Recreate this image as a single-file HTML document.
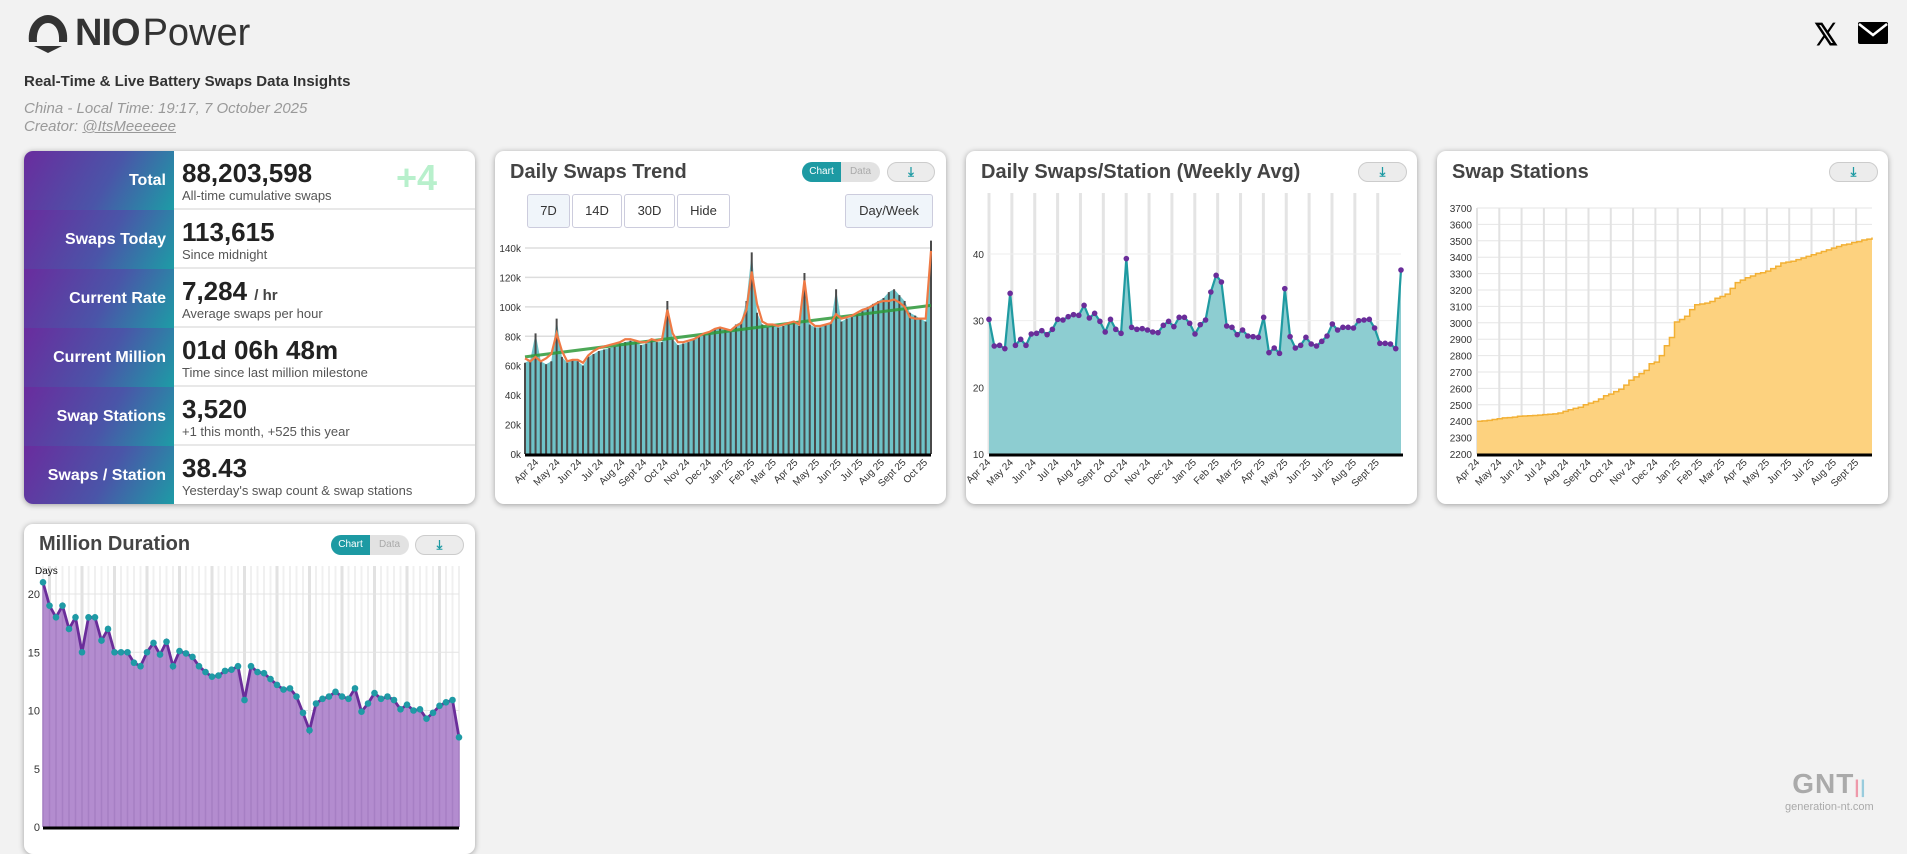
<!DOCTYPE html>
<html><head><meta charset="utf-8">
<style>
*{box-sizing:border-box;margin:0;padding:0}
body{width:1907px;height:832px;background:#f2f2f2;font-family:"Liberation Sans",sans-serif;position:relative;overflow:hidden;color:#333}
.abs{position:absolute}
.card{position:absolute;background:#fff;border-radius:9px;box-shadow:0 1px 6px rgba(0,0,0,.35);overflow:hidden}
.row{position:absolute;left:0;width:451px;height:59px;border-bottom:2px solid #e8e8e8}
.lab{position:absolute;left:0;top:0;width:150px;height:59px;background:linear-gradient(120deg,#6a2c9e 0%,#4a55a8 55%,#1d9ca6 100%);color:#fff;font-weight:bold;font-size:16px;text-align:right;padding-right:8px;line-height:59px}
.val{position:absolute;left:158px;top:7px;font-size:26px;font-weight:bold;color:#222}
.val small{font-size:15px;font-weight:bold;color:#444}
.sub{position:absolute;left:158px;top:37px;font-size:13px;color:#555}
.ctitle{position:absolute;font-size:20px;font-weight:bold;color:#444}
.tog{position:absolute;height:20px;border-radius:10px;background:#e2e2e2;font-size:10px;overflow:hidden;display:flex}
.tog span{flex:1;text-align:center;line-height:20px;color:#aaa}
.tog span.on{background:#1d9aa3;color:#fff}
.dl{position:absolute;height:20px;border-radius:10px;background:#ececec;border:1px solid #ccc;color:#1d9aa3;text-align:center;font-size:13px;line-height:17px;font-weight:bold}
.btn{position:absolute;top:194px;height:34px;border:1px solid #ccd;border-radius:3px;background:#fff;font-size:13px;text-align:center;line-height:32px;color:#333}
</style></head><body>
<div class="abs" style="left:25px;top:11px;height:44px;display:flex;align-items:center">
<svg width="46" height="42" viewBox="0 0 46 42"><path d="M4 30 C2 12 14 3 23 3 C32 3 44 12 42 30 L34 30 C35 17 29 11 23 11 C17 11 11 17 12 30 Z" fill="#333"/><path d="M9 34 L37 34 L23 41 Z" fill="#333"/></svg>
<span style="font-size:38px;font-weight:bold;color:#333;letter-spacing:-1px;margin-left:4px">NIO</span><span style="font-size:38px;color:#333;margin-left:3px">Power</span></div>
<div class="abs" style="left:24px;top:73px;font-size:15px;font-weight:bold;color:#333">Real-Time &amp; Live Battery Swaps Data Insights</div>
<div class="abs" style="left:24px;top:100px;font-size:15px;font-style:italic;color:#999">China - Local Time: 19:17, 7 October 2025</div>
<div class="abs" style="left:24px;top:118px;font-size:15px;font-style:italic;color:#999">Creator: <span style="text-decoration:underline">@ItsMeeeeee</span></div>
<div class="abs" style="left:1814px;top:18px;font-size:30px;font-weight:bold;color:#000">𝕏</div>
<svg class="abs" style="left:1858px;top:22px" width="30" height="22"><rect x="0" y="0" width="30" height="22" rx="2" fill="#000"/><path d="M1 2 L15 13 L29 2" stroke="#fff" stroke-width="2.5" fill="none"/></svg>

<div class="card" style="left:24px;top:151px;width:451px;height:353px">
<div class="row" style="top:0"><div class="lab">Total</div><div class="val">88,203,598</div><div class="sub">All-time cumulative swaps</div><div class="abs" style="left:372px;top:6px;font-size:36px;font-weight:bold;color:#b8f0cc">+4</div></div>
<div class="row" style="top:59px"><div class="lab">Swaps Today</div><div class="val">113,615</div><div class="sub">Since midnight</div></div>
<div class="row" style="top:118px"><div class="lab">Current Rate</div><div class="val">7,284 <small>/ hr</small></div><div class="sub">Average swaps per hour</div></div>
<div class="row" style="top:177px"><div class="lab">Current Million</div><div class="val">01d 06h 48m</div><div class="sub">Time since last million milestone</div></div>
<div class="row" style="top:236px"><div class="lab">Swap Stations</div><div class="val">3,520</div><div class="sub">+1 this month, +525 this year</div></div>
<div class="row" style="top:295px;border:none"><div class="lab">Swaps / Station</div><div class="val">38.43</div><div class="sub">Yesterday's swap count &amp; swap stations</div></div>
</div>

<div class="card" style="left:495px;top:151px;width:451px;height:353px"></div>
<div class="ctitle" style="left:510px;top:161px">Daily Swaps Trend</div>
<div class="tog" style="left:802px;top:162px;width:78px"><span class="on">Chart</span><span>Data</span></div>
<div class="dl" style="left:887px;top:162px;width:48px">⤓</div>
<div class="btn" style="left:527px;width:43px;background:#f0f5fa">7D</div>
<div class="btn" style="left:572px;width:50px">14D</div>
<div class="btn" style="left:624px;width:51px">30D</div>
<div class="btn" style="left:677px;width:53px">Hide</div>
<div class="btn" style="left:845px;width:88px;background:#f0f5fa">Day/Week</div>

<div class="card" style="left:966px;top:151px;width:451px;height:353px"></div>
<div class="ctitle" style="left:981px;top:161px">Daily Swaps/Station (Weekly Avg)</div>
<div class="dl" style="left:1358px;top:162px;width:49px">⤓</div>

<div class="card" style="left:1437px;top:151px;width:451px;height:353px"></div>
<div class="ctitle" style="left:1452px;top:161px">Swap Stations</div>
<div class="dl" style="left:1829px;top:162px;width:49px">⤓</div>

<div class="card" style="left:24px;top:524px;width:451px;height:330px"></div>
<div class="ctitle" style="left:39px;top:533px">Million Duration</div>
<div class="tog" style="left:331px;top:535px;width:78px"><span class="on">Chart</span><span>Data</span></div>
<div class="dl" style="left:415px;top:535px;width:49px">⤓</div>

<div class="abs" style="left:1785px;top:770px;color:#aaa;text-align:center"><div style="font-size:28px;font-weight:bold;letter-spacing:1px;line-height:28px">GNT<span style="font-size:18px;color:#e9a">|</span><span style="font-size:18px;color:#9cd">|</span></div><div style="font-size:11px">generation-nt.com</div></div>

<svg id="charts" class="abs" style="left:0;top:0" width="1907" height="832"></svg>
<script>
// ---- Daily swaps trend (weekly samples, thousands) ----
const dailyMonths=["Apr 24","May 24","Jun 24","Jul 24","Aug 24","Sept 24","Oct 24","Nov 24","Dec 24","Jan 25","Feb 25","Mar 25","Apr 25","May 25","Jun 25","Jul 25","Aug 25","Sept 25","Oct 25"];
const dailyTicks=[0,20,40,60,80,100,120,140];
const dailyBars=[62,64,82,63,61,63,92,66,62,64,63,60,66,68,70,71,72,73,75,76,77,76,74,75,78,76,76,104,78,74,75,76,78,80,82,83,85,86,85,84,88,90,104,137,96,88,86,88,86,87,88,90,87,123,88,86,86,88,89,112,90,92,93,95,97,100,102,104,106,110,112,108,104,96,94,92,90,145];
const dailyAvg=[65,63,66,63,65,68,82,70,63,64,64,62,67,70,72,73,74,75,76,78,78,77,76,76,78,77,78,98,82,76,76,77,78,80,82,83,85,86,85,84,87,89,98,124,102,90,88,88,87,88,89,90,88,118,90,87,87,88,89,95,92,93,94,96,98,99,101,103,104,104,105,103,100,93,92,92,92,138];
const dailyTrend=[66,101];
// ---- Swaps per station weekly avg ----
const stMonths=["Apr 24","May 24","Jun 24","Jul 24","Aug 24","Sept 24","Oct 24","Nov 24","Dec 24","Jan 25","Feb 25","Mar 25","Apr 25","May 25","Jun 25","Jul 25","Aug 25","Sept 25"];
const stTicks=[10,20,30,40];
const stAvg=[30.2,26.2,26.3,25.8,34.1,26.3,27.2,26.3,28,28.1,28.5,27.9,28.7,30.2,30.1,30.6,30.9,30.8,32.3,30.4,31.1,29.9,28.3,30.2,28.7,28.1,39.3,29,28.7,28.8,28.6,28.3,28.2,29.3,29.9,29.1,30.5,30.5,29.6,28,29.4,30.1,34.3,36.8,35.8,29.2,29,27.9,28.6,27.7,27.6,27.5,30.5,25.2,25.9,25.1,34.8,27.6,25.9,26.3,27.5,26.5,26.2,26.9,27.7,29.5,28.6,29,29,28.9,30,30.1,30.2,28.9,26.6,26.6,26.5,25.8,37.6];
// ---- Swap stations ----
const ssTicks=[2200,2300,2400,2500,2600,2700,2800,2900,3000,3100,3200,3300,3400,3500,3600,3700];
const ssValues=[2400,2402,2405,2410,2415,2420,2422,2425,2430,2432,2433,2435,2437,2440,2442,2445,2450,2460,2470,2478,2485,2500,2510,2520,2535,2555,2565,2580,2595,2620,2650,2670,2690,2710,2750,2760,2800,2860,2910,3005,3020,3040,3080,3110,3115,3120,3130,3150,3160,3175,3210,3245,3260,3275,3285,3300,3305,3315,3330,3345,3365,3370,3375,3385,3395,3405,3415,3425,3435,3445,3455,3465,3475,3480,3490,3495,3505,3510,3520];
// ---- Million duration ----
const mdTicks=[0,5,10,15,20];
const mdDays=[21,19,18,19,17,18,15,18,18,16,17,15,15,15,14.1,13.8,15,15.8,14.8,15.9,13.8,15.1,14.9,14.6,13.8,13.3,12.9,13,13.4,13.5,13.8,10.9,13.8,13.3,13.2,12.7,12.2,11.8,11.9,11.2,9.8,8.3,10.6,11.0,11.2,11.6,11.2,11.0,11.9,9.9,10.6,11.5,11.0,11.2,10.9,10.1,10.5,10.0,10.1,9.3,9.8,10.4,10.7,10.9,7.7];

const svg=document.getElementById('charts');
const NS='http://www.w3.org/2000/svg';
function mk(tag,attrs){const e=document.createElementNS(NS,tag);for(const k in attrs)e.setAttribute(k,attrs[k]);svg.appendChild(e);return e;}
function txt(x,y,s,anchor,size,rot,col){const t=mk('text',{x:x,y:y,'text-anchor':anchor,'font-size':size,fill:col||'#333','font-family':'Liberation Sans, sans-serif'});if(rot)t.setAttribute('transform','rotate('+rot+' '+x+' '+y+')');t.textContent=s;return t;}

// Daily chart
(function(){
const x0=525,x1=931,yb=454,yt=248;
const X=i=>x0+i*(x1-x0)/(dailyBars.length-1);
const Y=v=>yb-v*(yb-yt)/140;
dailyTicks.forEach(v=>{const l=mk('line',{x1:x0,x2:x1,y1:Y(v),y2:Y(v),stroke:'#ddd','stroke-width':1.5});


const t=txt(x0-4,Y(v)+4,v+'k','end',10);

});
let d='M'+X(0)+','+yb;dailyBars.forEach((v,i)=>d+=' L'+X(i)+','+Y(v));d+=' L'+X(dailyBars.length-1)+','+yb+'Z';
const a=mk('path',{d:d,fill:'#6fc3c8'});


dailyBars.forEach((v,i)=>{const b=mk('line',{x1:X(i),x2:X(i),y1:yb,y2:Y(v),stroke:'#4a4a4a','stroke-width':2});

});
const tr=mk('line',{x1:x0,x2:x1,y1:Y(dailyTrend[0]),y2:Y(dailyTrend[1]),stroke:'#2e9a3a','stroke-width':3,opacity:.85});


const Xa=i=>x0+i*(x1-x0)/(dailyAvg.length-1);
const p=mk('polyline',{points:dailyAvg.map((v,i)=>Xa(i)+','+Y(v)).join(' '),fill:'none',stroke:'#ef7a45','stroke-width':2.2});


const ax=mk('line',{x1:x0,x2:x1,y1:yb+1,y2:yb+1,stroke:'#000','stroke-width':3});


dailyMonths.forEach((m,j)=>{const x=539+j*(928-539)/(dailyMonths.length-1);
const t=txt(x,463,m,'end',10,-45);

});
})();

// Swaps per station chart
(function(){
const x0=989,x1=1401,yb=454,yt=193;
const X=i=>x0+i*(x1-x0)/(stAvg.length-1);
const Y=v=>yb-(v-10)*200/30;
stMonths.forEach((m,j)=>{const x=x0+j*(x1-x0)*0.0555;
const g=mk('line',{x1:x,x2:x,y1:yt,y2:yb,stroke:'#e4e4e4','stroke-width':3});


const t=txt(x+2,463,m,'end',10,-45);

});
stTicks.forEach(v=>{const l=mk('line',{x1:x0,x2:x1,y1:Y(v),y2:Y(v),stroke:'#eee','stroke-width':1});


const t=txt(x0-5,Y(v)+4,v,'end',10);

});
let d='M'+X(0)+','+yb;stAvg.forEach((v,i)=>d+=' L'+X(i)+','+Y(v));d+=' L'+X(stAvg.length-1)+','+yb+'Z';
const a=mk('path',{d:d,fill:'#8dcdd1'});


const p=mk('polyline',{points:stAvg.map((v,i)=>X(i)+','+Y(v)).join(' '),fill:'none',stroke:'#1f9aa1','stroke-width':2.2});


stAvg.forEach((v,i)=>{const c=mk('circle',{cx:X(i),cy:Y(v),r:2.8,fill:'#6a2d9a'});

});
const ax=mk('line',{x1:x0,x2:x1+2,y1:yb+1,y2:yb+1,stroke:'#000','stroke-width':3});


})();

// Swap stations chart
(function(){
const x0=1477,x1=1872,yb=454,yt=208;
const X=i=>x0+i*(x1-x0)/(ssValues.length-1);
const Y=v=>yb-(v-2200)*(yb-yt)/1500;
ssTicks.forEach(v=>{const l=mk('line',{x1:x0,x2:x1,y1:Y(v),y2:Y(v),stroke:'#e6e6e6','stroke-width':1});


const t=txt(x0-5,Y(v)+4,v,'end',10);

});
stMonths.forEach((m,j)=>{const x=x0+j*22.3;
const g=mk('line',{x1:x,x2:x,y1:yt,y2:yb,stroke:'#e2e2e2','stroke-width':2});


const t=txt(x+3,463,m,'end',10,-45);

});
let d='M'+X(0)+','+yb+' L'+X(0)+','+Y(ssValues[0]);
ssValues.forEach((v,i)=>{if(i>0)d+=' L'+X(i)+','+Y(ssValues[i-1])+' L'+X(i)+','+Y(v);});
const top=d;d+=' L'+X(ssValues.length-1)+','+yb+'Z';
const a=mk('path',{d:d,fill:'#fdd27f'});


let ld='M'+X(0)+','+Y(ssValues[0]);ssValues.forEach((v,i)=>{if(i>0)ld+=' L'+X(i)+','+Y(ssValues[i-1])+' L'+X(i)+','+Y(v);});
const l=mk('path',{d:ld,fill:'none',stroke:'#f2b034','stroke-width':1.5});


const ax=mk('line',{x1:x0,x2:x1,y1:yb+1,y2:yb+1,stroke:'#000','stroke-width':3});


})();

// Million duration chart
(function(){
const x0=43,x1=459,yb=827,yt=566;
const X=i=>x0+i*(x1-x0)/(mdDays.length-1);
const Y=v=>yb-v*11.65;
mdDays.forEach((v,i)=>{const g=mk('line',{x1:X(i),x2:X(i),y1:yt,y2:yb,stroke:i%5==1?'#e2e2e2':'#f0f0f0','stroke-width':i%5==1?3:2});

});
mdTicks.forEach(v=>{const l=mk('line',{x1:x0,x2:x1,y1:Y(v),y2:Y(v),stroke:'#e4e4e4','stroke-width':1});


const t=txt(x0-3,Y(v)+4,v,'end',11);

});
const dl=txt(35,574,'Days','start',10,0,'#111');


let d='M'+X(0)+','+yb;mdDays.forEach((v,i)=>d+=' L'+X(i)+','+Y(v));d+=' L'+X(mdDays.length-1)+','+yb+'Z';
const a=mk('path',{d:d,fill:'#b38ccf'});


mdDays.forEach((v,i)=>{const s=mk('line',{x1:X(i),x2:X(i),y1:Y(v),y2:yb,stroke:'#a67fc4','stroke-width':1.5});

});
const p=mk('polyline',{points:mdDays.map((v,i)=>X(i)+','+Y(v)).join(' '),fill:'none',stroke:'#6a2d9a','stroke-width':2.8});


mdDays.forEach((v,i)=>{const c=mk('circle',{cx:X(i),cy:Y(v),r:3.3,fill:'#1f9aa5'});

});
const ax=mk('line',{x1:x0,x2:x1,y1:yb+1,y2:yb+1,stroke:'#000','stroke-width':3});


})();
</script>
</body></html>
